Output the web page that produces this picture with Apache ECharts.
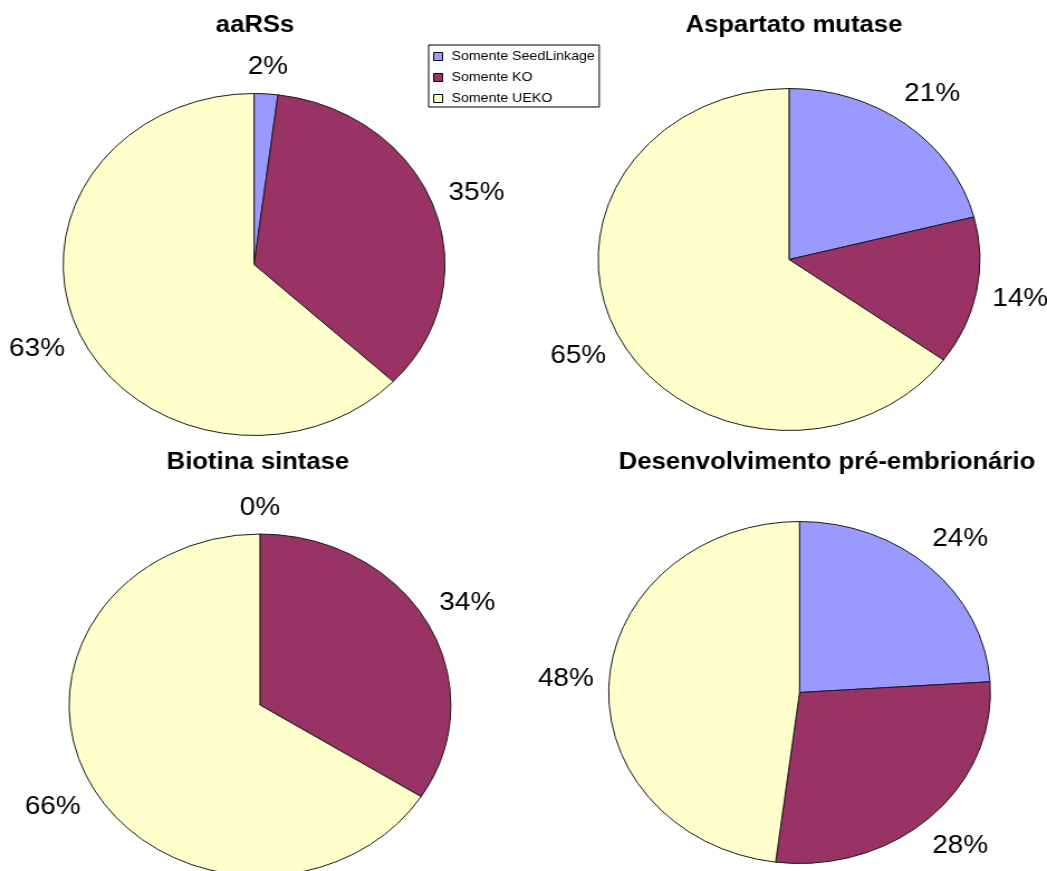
<!DOCTYPE html>
<html>
<head>
<meta charset="utf-8">
<title>Distribuição por categoria</title>
<script src="https://cdn.jsdelivr.net/npm/echarts@6/dist/echarts.min.js"></script>
<style>
  html, body { margin: 0; padding: 0; background: #fff; overflow: hidden; }
  /* The figure is laid out at 938px and widened to the 1047px page, so the pies come out oval. */
  #chart { width: 938px; height: 871px; transform: scaleX(1.1162); transform-origin: 0 0; }
</style>
</head>
<body>
<div id="chart"></div>
<script>
// Categories shared by all four pies
const categories = ['Somente SeedLinkage', 'Somente KO', 'Somente UEKO'];

// Share (%) of each category per group
const aarss = [2, 35, 63];
const aspartatoMutase = [21, 14, 65];
const biotinaSintase = [0, 34, 66];
const desenvolvimento = [24, 28, 48];

// Panel titles
const titles = ['aaRSs', 'Aspartato mutase', 'Biotina sintase', 'Desenvolvimento pré-embrionário'];

const seriesValues = [aarss, aspartatoMutase, biotinaSintase, desenvolvimento];

// Styling and layout
const FONT = "'Liberation Sans', Arial, sans-serif";
const sliceColors = { 'Somente SeedLinkage': '#9999FF', 'Somente KO': '#993366', 'Somente UEKO': '#FFFFCC' };
const pieCenters = [[227.6, 264.5], [706.9, 259.5], [232.9, 705], [716.3, 692.5]];
const titlePos = [[228.5, 14], [711.3, 14], [231.1, 451], [740.9, 451]];
const PIE_RADIUS = 171;
const LABEL_GAP = 13;

// Place each percentage label just outside the slice, centred on the slice's mid-angle.
function placeLabel(params) {
  const pts = params.labelLinePoints;
  if (!pts || pts.length < 2) return {};
  let dx = pts[1][0] - pts[0][0];
  let dy = pts[1][1] - pts[0][1];
  const len = Math.hypot(dx, dy) || 1;
  dx /= len; dy /= len;
  const w = params.labelRect.width, h = params.labelRect.height;
  const reach = LABEL_GAP + Math.abs(dx) * w / 2 + Math.abs(dy) * h / 2;
  return {
    x: pts[0][0] + dx * reach,
    y: pts[0][1] + dy * reach,
    align: 'center',
    verticalAlign: 'middle'
  };
}

const chart = echarts.init(document.getElementById('chart'), null, { renderer: 'canvas' });

const option = {
  backgroundColor: '#ffffff',
  animation: false,
  title: titles.map((t, i) => ({
    text: t,
    left: titlePos[i][0],
    top: titlePos[i][1],
    textAlign: 'center',
    padding: 0,
    textStyle: { fontFamily: FONT, fontSize: 23, fontWeight: 'bold', color: '#000' }
  })),
  legend: {
    orient: 'vertical',
    left: 384,
    top: 45,
    padding: [5, 4, 2, 4],
    itemWidth: 8,
    itemHeight: 8,
    itemGap: 8,
    icon: 'rect',
    borderColor: '#000',
    borderWidth: 1,
    backgroundColor: '#fff',
    data: categories.map(c => ({ name: c, itemStyle: { color: sliceColors[c], borderColor: '#000', borderWidth: 1 } })),
    textStyle: { fontFamily: FONT, fontSize: 12.7, color: '#000', padding: [0, 0, 0, 3] }
  },
  series: seriesValues.map((vals, i) => ({
    type: 'pie',
    name: titles[i],
    center: pieCenters[i],
    radius: PIE_RADIUS,
    startAngle: 90,
    clockwise: true,
    avoidLabelOverlap: false,
    silent: true,
    emphasis: { disabled: true },
    itemStyle: { borderColor: '#1a1a1a', borderWidth: 1 },
    label: {
      show: true,
      position: 'outside',
      formatter: '{c}%',
      fontFamily: FONT,
      fontSize: 25,
      color: '#000'
    },
    labelLine: { show: true, length: 15, length2: 0, lineStyle: { opacity: 0, width: 0 } },
    labelLayout: placeLabel,
    data: categories.map((c, j) => ({ name: c, value: vals[j], itemStyle: { color: sliceColors[c] } }))
  }))
};

chart.setOption(option);
</script>
</body>
</html>
